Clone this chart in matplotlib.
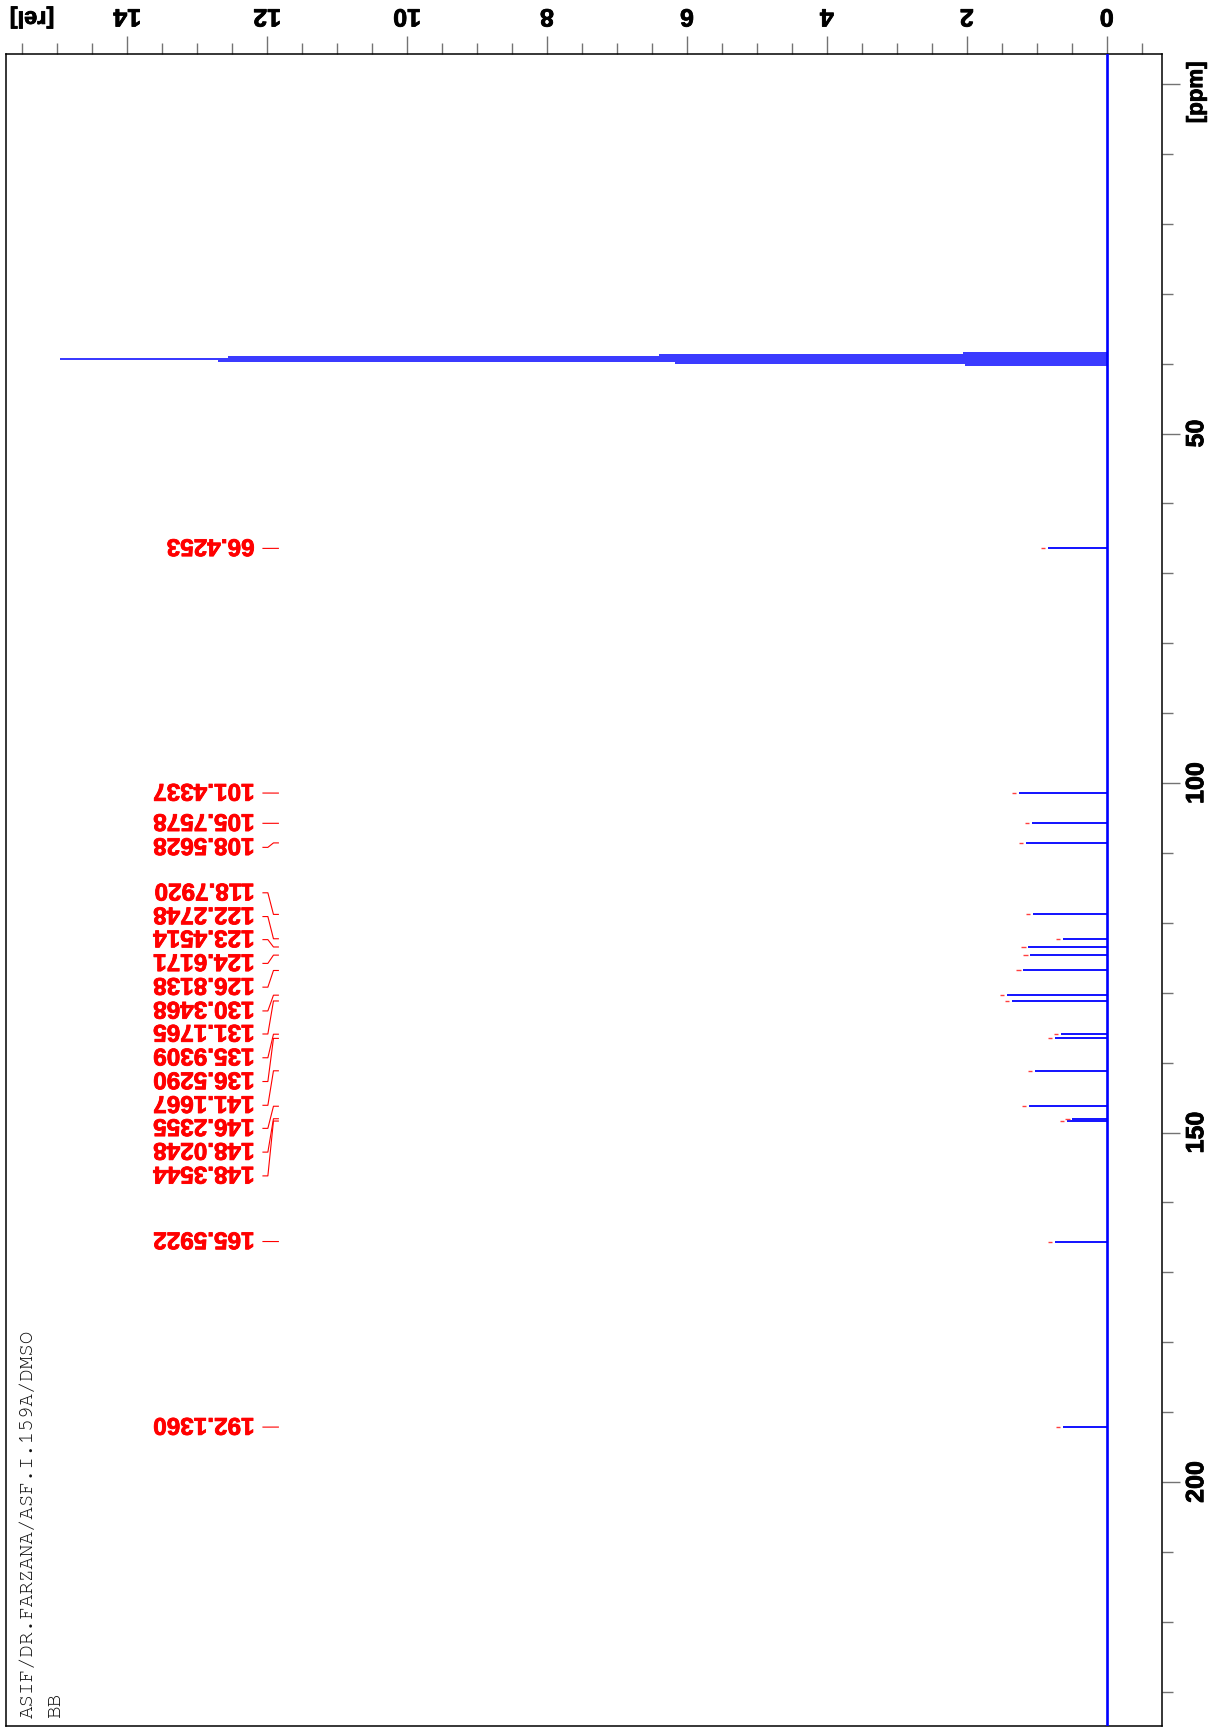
import matplotlib
matplotlib.use('Agg')
import matplotlib.pyplot as plt
import matplotlib.patheffects as pe
from matplotlib.ticker import MultipleLocator

# ----------------------------------------------------------
# DATOS: espectro 13C (picos)
# ----------------------------------------------------------

PEAK_PPM = [66.4253, 101.4337, 105.7578, 108.5628, 118.7920, 122.2748, 123.4514,
            124.6171, 126.8138, 130.3468, 131.1765, 135.9309, 136.5290, 141.1667,
            146.2355, 148.0248, 148.3544, 165.5922, 192.1360]
PEAK_REL = [0.84, 1.26, 1.07, 1.15, 1.06, 0.63, 1.12,
            1.09, 1.19, 1.43, 1.36, 0.65, 0.74, 1.03,
            1.11, 0.49, 0.57, 0.74, 0.63]
# posicion (ppm) donde se escribe cada etiqueta
LABEL_PPM = [66.43, 101.43, 105.76, 109.2, 115.7, 119.1, 122.4,
             125.8, 129.2, 132.6, 135.9, 139.3, 142.7, 146.1,
             149.4, 152.8, 156.2, 165.59, 192.14]

# septete del disolvente (DMSO-d6)
DMSO_PPM = [38.46, 38.74, 39.02, 39.30, 39.58, 39.86, 40.14]
DMSO_REL = [2.06, 6.40, 12.56, 14.96, 12.70, 6.17, 2.03]

REL_TICKS = [0, 2, 4, 6, 8, 10, 12, 14]
PPM_TICKS = [0, 50, 100, 150, 200]
PPM_LABELS = ['', '50', '100', '150', '200']

TITLE_LINES = ['ASIF/DR.FARZANA/ASF.I.159A/DMSO', 'BB']

BLUE = '#0000ff'
RED = '#ff0000'

plt.rcParams['font.family'] = ['Liberation Sans', 'DejaVu Sans']
plt.rcParams['font.weight'] = 'bold'

W, H = 1220, 1732
fig = plt.figure(figsize=(W / 100, H / 100), dpi=100)
ax = fig.add_axes([5.5 / W, 1 - 1726 / H, (1162 - 5.5) / W, (1726 - 54) / H])

# eje de intensidad (horizontal, invertido) y de ppm (vertical, invertido)
ax.set_xlim(15.74, -0.79)
ax.set_ylim(234.9, -4.3)

# linea base y picos
ax.axvline(0, color=BLUE, lw=1.9, zorder=3)
ax.hlines(DMSO_PPM, 0, DMSO_REL, color=BLUE, lw=1.1, zorder=3)
ax.hlines(PEAK_PPM, 0, PEAK_REL, color=BLUE, lw=1.3, zorder=3)

# marcas rojas sobre cada pico
ax.hlines(PEAK_PPM, [r + 0.04 for r in PEAK_REL], [r + 0.10 for r in PEAK_REL],
          color='#ff4040', lw=1.0, zorder=4)

# etiquetas de picos con sus conectores
red_fx = [pe.withStroke(linewidth=0.6, foreground=RED)]
for pk, lab in zip(PEAK_PPM, LABEL_PPM):
    ax.plot([12.06, 11.99, 11.91, 11.84], [lab, lab, pk, pk], color=RED, lw=0.8)
    ax.text(12.18, lab, '%.4f' % pk, rotation=180, rotation_mode='anchor',
            ha='left', va='center_baseline', color=RED, fontsize=17.5,
            fontweight='bold', path_effects=red_fx)

# ticks
ax.xaxis.tick_top()
ax.set_xticks(REL_TICKS)
ax.xaxis.set_minor_locator(MultipleLocator(0.5))
ax.yaxis.tick_right()
ax.set_yticks(PPM_TICKS, PPM_LABELS)
ax.yaxis.set_minor_locator(MultipleLocator(10))

ax.tick_params(which='both', direction='out', color='0.45', width=1.0)
ax.tick_params(which='major', length=13, labelsize=18)
ax.tick_params(which='minor', length=8)
ax.tick_params(axis='x', which='major', pad=5.5, labelrotation=180)
ax.tick_params(axis='y', which='major', pad=3, labelrotation=90)
black_fx = [pe.withStroke(linewidth=0.6, foreground='black')]
for lbl in ax.get_yticklabels():
    lbl.set_va('center')
    lbl.set_path_effects(black_fx)
for lbl in ax.get_xticklabels():
    lbl.set_path_effects(black_fx)
for s in ax.spines.values():
    s.set_linewidth(1.1)

ax.annotate('[rel]', xy=(15.36, 1), xycoords=('data', 'axes fraction'),
            xytext=(0, 26), textcoords='offset points', rotation=180,
            ha='center', va='center', fontsize=17, fontweight='bold',
            path_effects=black_fx)
ax.annotate('[ppm]', xy=(1, 1.2), xycoords=('axes fraction', 'data'),
            xytext=(25, 0), textcoords='offset points', rotation=90,
            ha='center', va='center', fontsize=16, fontweight='bold',
            path_effects=black_fx)

# texto del experimento (abajo a la izquierda)
for i, line in enumerate(TITLE_LINES):
    fig.text((28 + 28 * i) / W, 1 - 1718 / H, line, rotation=90,
             rotation_mode='anchor', ha='left', va='center',
             family='FreeMono', fontweight='normal', fontsize=15,
             color='#111111')

fig.savefig('out.png', dpi=100)
